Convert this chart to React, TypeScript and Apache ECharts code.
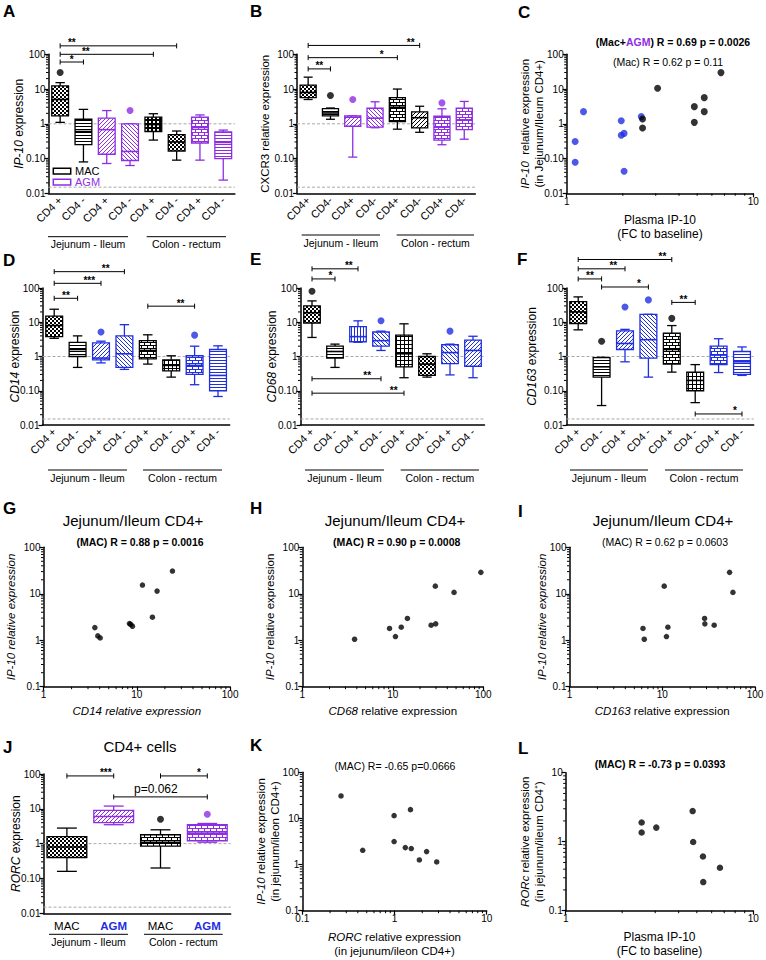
import React, { useEffect, useRef } from "react";
import * as echarts from "echarts";

const FONT = "'Liberation Sans', Arial, Helvetica, sans-serif";
const INK = "#000000";
const PURPLE = "#8e2de2";
const BLUE = "#1f2fe0";
const GREY = "#a9a9a9";

// ---------- categories / ticks ----------
const catsPM = ["CD4 +", "CD4 -", "CD4 +", "CD4 -", "CD4 +", "CD4 -", "CD4 +", "CD4 -"];
const catsB = ["CD4+", "CD4-", "CD4+", "CD4-", "CD4+", "CD4-", "CD4+", "CD4-"];
const catsJ = ["MAC", "AGM", "MAC", "AGM"];
const minorMultipliers = [2, 3, 4, 5, 6, 7, 8, 9];
const refLevels = [1, 0.015];

// ---------- box stats [min, q1, median, q3, max] ----------
const ip10Stats = [
  [1.1, 1.7, 5, 12.3, 15.3],
  [0.08, 0.25, 0.6, 1.35, 2.6],
  [0.072, 0.133, 0.68, 1.46, 2.4],
  [0.063, 0.088, 0.16, 1.0, 1.0],
  [0.34, 0.6, 0.95, 1.55, 1.95],
  [0.09, 0.165, 0.3, 0.49, 0.62],
  [0.09, 0.28, 0.78, 1.55, 1.8],
  [0.024, 0.1, 0.29, 0.58, 0.66],
];
const ip10Outliers = [[0, 30], [3, 2.4]];
const ip10Sig = [
  { a: 0, b: 1, y: 60, lx: 0.5, t: "*" },
  { a: 0, b: 4, y: 100, lx: 1.1, t: "**" },
  { a: 0, b: 5, y: 175, lx: 0.5, t: "**" },
];

const cxcr3Stats = [
  [5, 5.7, 8, 13, 22],
  [1.35, 1.7, 2.05, 2.75, 2.85],
  [0.11, 0.85, 1.55, 1.7, 1.7],
  [0.77, 0.8, 1.45, 2.8, 4.3],
  [0.7, 1.15, 3, 5.7, 10],
  [0.57, 0.76, 1.5, 2.2, 3.2],
  [0.25, 0.34, 0.8, 1.65, 2.7],
  [0.36, 0.68, 1.3, 2.8, 4.4],
];
const cxcr3Outliers = [[1, 6.5], [2, 5.0], [6, 4.0]];
const cxcr3Sig = [
  { a: 0, b: 1, y: 38, lx: 0.5, t: "**" },
  { a: 0, b: 4, y: 80, lx: 3.3, t: "*" },
  { a: 0, b: 5, y: 180, lx: 4.6, t: "**" },
];

const cd14Stats = [
  [3.4, 3.8, 8, 15, 24],
  [0.48, 1.0, 1.6, 2.6, 4.0],
  [0.65, 0.8, 0.9, 2.5, 2.8],
  [0.42, 0.48, 1.2, 4.0, 8.5],
  [0.6, 0.85, 1.5, 2.9, 4.3],
  [0.25, 0.38, 0.55, 0.8, 1.05],
  [0.15, 0.3, 0.55, 1.05, 2.0],
  [0.068, 0.1, 0.28, 1.6, 2.05],
];
const cd14Outliers = [[2, 5.2], [6, 4.2]];
const cd14Sig = [
  { a: 0, b: 1, y: 50, lx: 0.5, t: "**" },
  { a: 0, b: 2, y: 137, lx: 1.5, t: "***" },
  { a: 0, b: 3, y: 300, lx: 2.2, t: "**" },
  { a: 4, b: 6, y: 29.5, lx: 5.4, t: "**" },
];

const cd68Stats = [
  [3.6, 9.5, 19, 30, 42],
  [0.48, 0.9, 1.4, 2.0, 2.3],
  [2.6, 2.7, 3.8, 7.5, 11],
  [1.5, 2.0, 2.9, 5.2, 5.5],
  [0.24, 0.5, 1.2, 4.2, 9],
  [0.25, 0.28, 0.6, 1.0, 1.2],
  [0.29, 0.62, 1.3, 2.2, 2.3],
  [0.24, 0.52, 1.5, 3.0, 3.9],
];
const cd68Outliers = [[0, 80], [3, 11], [6, 5.5]];
const cd68Sig = [
  { a: 0, b: 1, y: 184, lx: 0.8, t: "*" },
  { a: 0, b: 2, y: 363, lx: 1.6, t: "**" },
  { a: 0, b: 3, y: 0.224, lx: 2.4, t: "**" },
  { a: 0, b: 4, y: 0.085, lx: 3.55, t: "**" },
];

const cd163Stats = [
  [6, 9.2, 20, 40, 55],
  [0.037, 0.25, 0.5, 0.93, 0.95],
  [0.7, 1.6, 2.4, 5.6, 6.2],
  [0.25, 0.9, 3.1, 17, 17],
  [0.35, 0.6, 1.6, 4.8, 8],
  [0.045, 0.1, 0.2, 0.35, 0.58],
  [0.34, 0.58, 1.1, 2.0, 3.3],
  [0.28, 0.3, 0.7, 1.4, 1.9],
];
const cd163Outliers = [[1, 2.8], [2, 28], [3, 45], [4, 13]];
const cd163Sig = [
  { a: 0, b: 1, y: 184, lx: 0.5, t: "**" },
  { a: 0, b: 2, y: 363, lx: 1.5, t: "**" },
  { a: 0, b: 4, y: 680, lx: 3.6, t: "**" },
  { a: 1, b: 3, y: 107, lx: 2.6, t: "*" },
  { a: 4, b: 5, y: 38, lx: 4.5, t: "**" },
  { a: 5, b: 7, y: 0.021, lx: 6.7, t: "*" },
];

const rorcStats = [
  [0.16, 0.4, 0.8, 1.6, 2.8],
  [3.5, 4.0, 6.0, 9.0, 12],
  [0.2, 0.85, 1.1, 1.8, 2.5],
  [1.1, 1.2, 2.0, 3.5, 3.8],
];
const rorcOutliers = [[2, 5.0], [3, 7.0]];
const rorcSig = [
  { a: 0, b: 1, y: 88, lx: 0.83, t: "***" },
  { a: 2, b: 3, y: 88, lx: 2.82, t: "*" },
  { a: 1, b: 3, y: 22, lx: 1.9, t: "p=0.062" },
];

// ---------- scatter data [x, y] ----------
const cMac = [[2.55, 1.38], [2.55, 0.76], [3.07, 10.5], [4.83, 3.12], [4.83, 1.1], [5.46, 5.66], [5.46, 2.24], [6.71, 29.7]];
const cAgm = [[1.11, 0.31], [1.11, 0.078], [1.23, 2.24], [1.96, 1.23], [1.96, 0.47], [2.03, 0.53], [2.03, 0.043], [2.51, 1.61]];
const gPts = [[3.55, 1.87], [3.82, 1.24], [4.05, 1.12], [8.34, 2.29], [8.6, 2.2], [8.98, 2.0], [11.5, 15.4], [14.7, 3.13], [16.5, 11.4], [24.1, 30.8]];
const hPts = [[3.78, 1.05], [9.2, 1.79], [10.7, 1.2], [12.4, 1.91], [14.5, 2.94], [26.5, 2.11], [29.8, 2.25], [29.5, 14.6], [47.5, 10.7], [94, 28.9]];
const iPts = [[6.2, 1.79], [6.4, 1.05], [10.5, 14.6], [11.1, 1.2], [11.5, 1.91], [28.6, 2.94], [28.8, 2.25], [36.3, 2.11], [53.2, 28.9], [57.8, 10.7]];
const kPts = [[0.263, 30.7], [0.452, 2.04], [0.99, 11.5], [0.99, 3.15], [1.49, 15.5], [1.31, 2.33], [1.52, 2.22], [1.86, 1.26], [2.23, 1.91], [2.87, 1.14]];
const lPts = [[2.54, 1.9], [2.54, 1.36], [3.04, 1.6], [4.75, 2.78], [4.78, 0.99], [5.39, 0.61], [6.64, 0.42], [5.41, 0.26]];

// ---------- styles (pattern, color) ----------
const K = INK, P = PURPLE, B = BLUE;
const styleA = [["checker", K], ["hlines", K], ["diag", P], ["diagb", P], ["dots", K], ["checker", K], ["brick", P], ["hlines", P]];
const styleB = [["checker", K], ["hlines", K], ["diag", P], ["diagb", P], ["brick", K], ["diag", K], ["brick", P], ["brick", P]];
const styleD = [["checker", K], ["hlines", K], ["diag", B], ["diagb", B], ["brick", K], ["grid", K], ["brick", B], ["hlines", B]];
const styleE = [["checker", K], ["hlines", K], ["vlines", B], ["diagb", B], ["grid", K], ["checker", K], ["diagb", B], ["diag", B]];
const styleF = [["checker", K], ["hlines", K], ["diag", B], ["diagb", B], ["brick", K], ["grid", K], ["brick", B], ["hlines", B]];
const styleJ = [["checker", K], ["diag", P], ["brick", K], ["brick", P]];

function makePattern(kind: string, color: string) {
  const c = document.createElement("canvas");
  let w = 4, h = 4;
  if (kind === "hlines" || kind === "vlines") { w = 3; h = 3; }
  if (kind === "brick") { w = 6; h = 6; }
  c.width = w; c.height = h;
  const g = c.getContext("2d")!;
  g.fillStyle = "#ffffff"; g.fillRect(0, 0, w, h);
  g.fillStyle = color;
  switch (kind) {
    case "checker": g.fillRect(0, 0, 2, 2); g.fillRect(2, 2, 2, 2); break;
    case "dots": g.fillRect(0, 0, 4, 4); g.fillStyle = "#ffffff"; g.fillRect(1, 1, 2, 2); break;
    case "hlines": g.fillRect(0, 0, w, 1); break;
    case "vlines": g.fillRect(0, 0, 1, h); break;
    case "grid": g.fillRect(0, 0, w, 1); g.fillRect(0, 0, 1, h); break;
    case "brick": g.fillRect(0, 0, 6, 1); g.fillRect(0, 1, 1, 2); g.fillRect(0, 3, 6, 1); g.fillRect(3, 4, 1, 2); break;
    case "diag": for (let i = 0; i < w; i++) g.fillRect(i, h - 1 - i, 1, 1); break;
    case "diagb": for (let i = 0; i < w; i++) g.fillRect(i, i, 1, 1); break;
  }
  return { image: c.toDataURL(), repeat: "repeat", imageWidth: w, imageHeight: h };
}

function decadeLabel(v: number, short: boolean) {
  const e = Math.round(Math.log10(v));
  const m: any = { "-2": "0.01", "-1": short ? "0.1" : "0.10", "0": "1", "1": "10", "2": "100" };
  return m[String(e)] ?? "";
}

function minorValues(e0: number, e1: number) {
  const out: number[] = [];
  for (let e = e0; e < e1; e++) for (const m of minorMultipliers) out.push(m * Math.pow(10, e));
  return out;
}

const nameStyle = (size: number) => ({
  fontSize: size, fontFamily: FONT, color: INK, lineHeight: size + 2,
  rich: { i: { fontStyle: "italic", fontSize: size, fontFamily: FONT, color: INK } },
});

function buildOption() {
  const grids: any[] = [], xAxes: any[] = [], yAxes: any[] = [], series: any[] = [], graphic: any[] = [];

  const logAxis = (dim: "x" | "y", gi: number, min: number, max: number, short: boolean, name: string, gap: number, size: number) => ({
    type: "log", logBase: 10, gridIndex: gi, min, max,
    axisLine: { show: true, lineStyle: { color: INK, width: 1.5 } },
    axisTick: { show: true, length: 4, lineStyle: { color: INK, width: 1.2 } },
    axisLabel: { fontSize: 10, color: INK, fontFamily: FONT, margin: 3, formatter: (v: number) => decadeLabel(v, short) },
    splitLine: { show: false }, minorTick: { show: false }, minorSplitLine: { show: false },
    name, nameLocation: "middle", nameGap: gap, nameRotate: dim === "y" ? 90 : 0,
    nameMoveOverlap: false, nameTextStyle: nameStyle(size),
  });

  const minorSeries = (gi: number, dim: "x" | "y", vals: number[], other: number) => ({
    type: "custom", xAxisIndex: gi, yAxisIndex: gi, silent: true, z: 3,
    data: vals.map((v) => (dim === "y" ? [other, v] : [v, other])),
    renderItem: (params: any, api: any) => {
      const cs = params.coordSys;
      const p = api.coord([api.value(0), api.value(1)]);
      if (dim === "y") return { type: "line", shape: { x1: cs.x - 2.5, y1: p[1], x2: cs.x, y2: p[1] }, style: { stroke: INK, lineWidth: 1 } };
      const yb = cs.y + cs.height;
      return { type: "line", shape: { x1: p[0], y1: yb, x2: p[0], y2: yb + 2.5 }, style: { stroke: INK, lineWidth: 1 } };
    },
  });

  const patternCache: any = {};
  const pat = (k: string, c: string) => (patternCache[k + c] ||= makePattern(k, c));

  const addBoxPanel = (p: any) => {
    const gi = grids.length;
    grids.push({ left: p.left, top: p.top, width: p.width, height: p.height, containLabel: false, outerBoundsMode: "none" });
    xAxes.push({
      type: "category", gridIndex: gi, data: p.cats, boundaryGap: true,
      axisLine: { lineStyle: { color: INK, width: 1.5 } },
      axisTick: { alignWithLabel: true, length: 4, lineStyle: { color: INK, width: 1.2 } },
      axisLabel: {
        interval: 0, rotate: p.rotate, fontSize: p.catFont, color: INK, fontFamily: FONT, margin: p.catMargin,
        formatter: (v: string) => (p.agmBlue && v === "AGM" ? "{a|AGM}" : v),
        rich: { a: { color: BLUE, fontWeight: "bold", fontSize: p.catFont, fontFamily: FONT } },
      },
      splitLine: { show: false },
    });
    yAxes.push(logAxis("y", gi, 0.01, 100, false, p.yName, p.yNameGap, p.yNameSize));
    // reference dashed lines
    series.push({
      type: "custom", xAxisIndex: gi, yAxisIndex: gi, silent: true, z: 1,
      data: refLevels.map((v) => [0, v]),
      renderItem: (params: any, api: any) => {
        const cs = params.coordSys;
        const y = api.coord([0, api.value(1)])[1];
        return { type: "line", shape: { x1: cs.x, y1: y, x2: cs.x + cs.width, y2: y }, style: { stroke: GREY, lineWidth: 1, lineDash: [3, 2] } };
      },
    });
    series.push(minorSeries(gi, "y", minorValues(-2, 2), 0));
    // boxes
    series.push({
      type: "custom", xAxisIndex: gi, yAxisIndex: gi, z: 2,
      data: p.stats.map((s: number[], i: number) => [i, ...s]),
      encode: { x: 0, y: [1, 2, 3, 4, 5] },
      renderItem: (params: any, api: any) => {
        const i = api.value(0);
        const [kind, color] = p.styles[params.dataIndex];
        const band = api.size([1, 1])[0];
        const pm = api.coord([i, api.value(1)]);
        const cx = pm[0];
        const yMin = pm[1];
        const yQ1 = api.coord([i, api.value(2)])[1];
        const yMed = api.coord([i, api.value(3)])[1];
        const yQ3 = api.coord([i, api.value(4)])[1];
        const yMax = api.coord([i, api.value(5)])[1];
        const bw = band * p.boxFrac, cw = bw * p.capFrac;
        const ls = { stroke: color, lineWidth: 1.3 };
        return {
          type: "group",
          children: [
            { type: "line", shape: { x1: cx, y1: yMax, x2: cx, y2: yQ3 }, style: ls },
            { type: "line", shape: { x1: cx, y1: yQ1, x2: cx, y2: yMin }, style: ls },
            { type: "line", shape: { x1: cx - cw / 2, y1: yMax, x2: cx + cw / 2, y2: yMax }, style: ls },
            { type: "line", shape: { x1: cx - cw / 2, y1: yMin, x2: cx + cw / 2, y2: yMin }, style: ls },
            { type: "rect", shape: { x: cx - bw / 2, y: yQ3, width: bw, height: yQ1 - yQ3 }, style: { fill: pat(kind, color), stroke: color, lineWidth: 1.3 } },
            { type: "line", shape: { x1: cx - bw / 2, y1: yMed, x2: cx + bw / 2, y2: yMed }, style: { stroke: color, lineWidth: 1.6 } },
          ],
        };
      },
    });
    // outliers
    series.push({
      type: "scatter", xAxisIndex: gi, yAxisIndex: gi, symbol: "circle", symbolSize: 7, z: 4, silent: true,
      data: p.outliers.map((o: number[]) => ({ value: o, itemStyle: { color: p.styles[o[0]][1] } })),
    });
    // significance brackets
    series.push({
      type: "custom", xAxisIndex: gi, yAxisIndex: gi, z: 5, silent: true,
      data: p.sig.map((s: any) => [s.a, s.b, s.y, s.lx]),
      renderItem: (params: any, api: any) => {
        const s = p.sig[params.dataIndex];
        const band = api.size([1, 1])[0];
        const pa = api.coord([s.a, s.y]);
        const pb = api.coord([s.b, s.y]);
        const lxp = pa[0] + (s.lx - s.a) * band;
        const isP = s.t.startsWith("p");
        const st = { stroke: INK, lineWidth: 1 };
        return {
          type: "group",
          children: [
            { type: "line", shape: { x1: pa[0], y1: pa[1], x2: pb[0], y2: pb[1] }, style: st },
            { type: "line", shape: { x1: pa[0], y1: pa[1] - 2.5, x2: pa[0], y2: pa[1] + 2.5 }, style: st },
            { type: "line", shape: { x1: pb[0], y1: pb[1] - 2.5, x2: pb[0], y2: pb[1] + 2.5 }, style: st },
            {
              type: "text", x: lxp, y: pa[1] - (isP ? 1 : 0),
              style: {
                text: s.t, fill: INK, fontFamily: FONT, fontSize: isP ? 12 : 10, fontWeight: isP ? "normal" : "bold",
                lineHeight: isP ? 13 : 6,
                align: "center", verticalAlign: "bottom", textAlign: "center", textVerticalAlign: "bottom",
              },
            },
          ],
        };
      },
    });
  };

  const addScatterPanel = (p: any) => {
    const gi = grids.length;
    grids.push({ left: p.left, top: p.top, width: p.width, height: p.height, containLabel: false, outerBoundsMode: "none" });
    xAxes.push(logAxis("x", gi, p.xMin, p.xMax, true, p.xName, p.xNameGap, p.xNameSize));
    yAxes.push(logAxis("y", gi, p.yMin, p.yMax, p.yShort, p.yName, p.yNameGap, p.yNameSize));
    const ex0 = Math.round(Math.log10(p.xMin)), ex1 = Math.round(Math.log10(p.xMax));
    const ey0 = Math.round(Math.log10(p.yMin)), ey1 = Math.round(Math.log10(p.yMax));
    series.push(minorSeries(gi, "x", minorValues(ex0, ex1), p.yMin));
    series.push(minorSeries(gi, "y", minorValues(ey0, ey1), p.xMin));
    for (const s of p.sets) {
      series.push({
        type: "scatter", xAxisIndex: gi, yAxisIndex: gi, symbol: "circle", symbolSize: s.size, silent: true, z: 4,
        itemStyle: { color: s.color }, data: s.data,
      });
    }
  };

  // ----- Box panels -----
  addBoxPanel({ cats: catsPM, stats: ip10Stats, outliers: ip10Outliers, sig: ip10Sig, styles: styleA,
    left: 48.5, top: 54.3, width: 186.4, height: 139, rotate: 45, catFont: 11, catMargin: 5,
    yName: "{i|IP-10} expression", yNameGap: 23, yNameSize: 12, boxFrac: 0.72, capFrac: 0.56 });
  addBoxPanel({ cats: catsB, stats: cxcr3Stats, outliers: cxcr3Outliers, sig: cxcr3Sig, styles: styleB,
    left: 297, top: 54.3, width: 178.4, height: 139, rotate: 45, catFont: 11, catMargin: 5,
    yName: "CXCR3 relative expression", yNameGap: 25, yNameSize: 11.5, boxFrac: 0.72, capFrac: 0.56 });
  addBoxPanel({ cats: catsPM, stats: cd14Stats, outliers: cd14Outliers, sig: cd14Sig, styles: styleD,
    left: 42.5, top: 288, width: 187.2, height: 137, rotate: 45, catFont: 11, catMargin: 5,
    yName: "{i|CD14} expression", yNameGap: 21, yNameSize: 12, boxFrac: 0.72, capFrac: 0.56 });
  addBoxPanel({ cats: catsPM, stats: cd68Stats, outliers: cd68Outliers, sig: cd68Sig, styles: styleE,
    left: 300.5, top: 288, width: 184, height: 137, rotate: 45, catFont: 11, catMargin: 5,
    yName: "{i|CD68} expression", yNameGap: 22, yNameSize: 12, boxFrac: 0.72, capFrac: 0.56 });
  addBoxPanel({ cats: catsPM, stats: cd163Stats, outliers: cd163Outliers, sig: cd163Sig, styles: styleF,
    left: 566.5, top: 288, width: 187.2, height: 137, rotate: 45, catFont: 11, catMargin: 5,
    yName: "{i|CD163} expression", yNameGap: 28, yNameSize: 12, boxFrac: 0.72, capFrac: 0.56 });
  addBoxPanel({ cats: catsJ, stats: rorcStats, outliers: rorcOutliers, sig: rorcSig, styles: styleJ,
    left: 43.5, top: 774, width: 187.2, height: 139.3, rotate: 0, catFont: 11.5, catMargin: 7, agmBlue: true,
    yName: "{i|RORC} expression", yNameGap: 21, yNameSize: 12, boxFrac: 0.85, capFrac: 0.5 });

  // ----- Scatter panels -----
  addScatterPanel({ left: 566.7, top: 54.3, width: 186.6, height: 139, xMin: 1, xMax: 10, yMin: 0.01, yMax: 100, yShort: false,
    xName: "Plasma IP-10\n(FC to baseline)", xNameGap: 20, xNameSize: 12,
    yName: "{i|IP-10}  relative expression\n(in Jejunum/Ileum CD4+)", yNameGap: 21, yNameSize: 11.5,
    sets: [{ data: cAgm, color: BLUE, size: 7 }, { data: cMac, color: INK, size: 7 }] });
  addScatterPanel({ left: 43.5, top: 547.3, width: 186.6, height: 139.4, xMin: 1, xMax: 100, yMin: 0.1, yMax: 100, yShort: true,
    xName: "{i|CD14 relative expression}", xNameGap: 18, xNameSize: 11.5,
    yName: "{i|IP-10 relative expression}", yNameGap: 26, yNameSize: 11.5,
    sets: [{ data: gPts, color: INK, size: 5.5 }] });
  addScatterPanel({ left: 302.3, top: 547.3, width: 181, height: 139.4, xMin: 1, xMax: 100, yMin: 0.1, yMax: 100, yShort: true,
    xName: "{i|CD68} relative expression", xNameGap: 18, xNameSize: 11.5,
    yName: "{i|IP-10} relative expression", yNameGap: 26, yNameSize: 11.5,
    sets: [{ data: hPts, color: INK, size: 5.5 }] });
  addScatterPanel({ left: 569.5, top: 547.3, width: 185.5, height: 139.4, xMin: 1, xMax: 100, yMin: 0.1, yMax: 100, yShort: true,
    xName: "{i|CD163} relative expression", xNameGap: 18, xNameSize: 11.5,
    yName: "{i|IP-10 relative expression}", yNameGap: 21, yNameSize: 11.5,
    sets: [{ data: iPts, color: INK, size: 5.5 }] });
  addScatterPanel({ left: 302.3, top: 772.3, width: 184.4, height: 138.4, xMin: 0.1, xMax: 10, yMin: 0.1, yMax: 100, yShort: true,
    xName: "{i|RORC} relative expression\n(in jejunum/ileon CD4+)", xNameGap: 20, xNameSize: 11.5,
    yName: "{i|IP-10} relative expression\n(in jejunum/ileon CD4+)", yNameGap: 21, yNameSize: 11.5,
    sets: [{ data: kPts, color: INK, size: 5.5 }] });
  addScatterPanel({ left: 565.7, top: 772.7, width: 187.6, height: 138, xMin: 1, xMax: 10, yMin: 0.1, yMax: 10, yShort: true,
    xName: "Plasma IP-10\n(FC to baseline)", xNameGap: 19, xNameSize: 12,
    yName: "{i|RORc} relative expression\n(in jejunum/ileum CD4\u207A)", yNameGap: 20, yNameSize: 11.5,
    sets: [{ data: lPts, color: INK, size: 6.5 }] });

  // ----- graphic texts -----
  const txt = (text: string, x: number, y: number, size: number, opts: any = {}) => ({
    type: "text", x, y, silent: true,
    style: {
      text, fill: opts.fill || INK, fontFamily: FONT, fontSize: size, fontWeight: opts.weight || "normal",
      fontStyle: opts.italic ? "italic" : "normal",
      align: opts.align || "center", verticalAlign: opts.va || "middle",
      textAlign: opts.align || "center", textVerticalAlign: opts.va || "middle",
      rich: opts.rich,
    },
  });
  const letters: [string, number, number][] = [
    ["A", 3, 3], ["B", 250, 3], ["C", 518, 4], ["D", 3, 252], ["E", 250, 251], ["F", 517, 251],
    ["G", 3, 500], ["H", 250, 500], ["I", 518, 503], ["J", 3, 739], ["K", 250, 737], ["L", 518, 740],
  ];
  for (const [t, x, y] of letters) graphic.push(txt(t, x, y, 17, { weight: "bold", align: "left", va: "top" }));

  const groups: [number, number, number][][] = [
    [[48, 128, 236.7], [146.7, 226, 236.7]],
    [[301.7, 380, 235], [396.7, 474, 235]],
    [[48, 127, 470], [143, 222, 470]],
    [[305, 384, 470], [400.7, 479, 470]],
    [[570, 648, 470], [665, 743, 470]],
    [[49, 128, 934.3], [144, 222.7, 934.3]],
  ];
  const groupNames = ["Jejunum - Ileum", "Colon - rectum"];
  for (const row of groups) {
    row.forEach(([x1, x2, y], k) => {
      graphic.push({ type: "line", silent: true, shape: { x1, y1: y, x2, y2: y }, style: { stroke: INK, lineWidth: 1 } });
      graphic.push(txt(groupNames[k], (x1 + x2) / 2, y + 7.5, 10.5));
    });
  }

  // legend in A
  graphic.push({ type: "rect", silent: true, shape: { x: 53.3, y: 168.3, width: 17.4, height: 5.7 }, style: { fill: "#fff", stroke: INK, lineWidth: 1.5 } });
  graphic.push(txt("MAC", 75, 171.3, 11, { align: "left" }));
  graphic.push({ type: "rect", silent: true, shape: { x: 53.3, y: 179.3, width: 17.4, height: 5.7 }, style: { fill: "#fff", stroke: PURPLE, lineWidth: 1.5 } });
  graphic.push(txt("AGM", 75, 182.3, 11, { align: "left", fill: PURPLE }));

  // titles / stats
  const richBold = {
    b: { fontWeight: "bold", fill: INK, color: INK, fontSize: 10.5, fontFamily: FONT },
    p: { fontWeight: "bold", fill: PURPLE, color: PURPLE, fontSize: 10.5, fontFamily: FONT },
  };
  graphic.push(txt("{b|(Mac+}{p|AGM}{b|) R = 0.69 p = 0.0026}", 673, 41.7, 10.5, { rich: richBold }));
  graphic.push(txt("(Mac) R = 0.62 p = 0.11", 668, 61.7, 10.5));
  graphic.push(txt("Jejunum/Ileum CD4+", 133, 520, 15));
  graphic.push(txt("Jejunum/Ileum CD4+", 395, 520, 15));
  graphic.push(txt("Jejunum/Ileum CD4+", 663, 520, 15));
  graphic.push(txt("(MAC) R = 0.88 p = 0.0016", 140, 541.7, 10.5, { weight: "bold" }));
  graphic.push(txt("(MAC) R = 0.90 p = 0.0008", 396.7, 541.7, 10.5, { weight: "bold" }));
  graphic.push(txt("(MAC) R = 0.62 p = 0.0603", 665, 541.7, 10.5));
  graphic.push(txt("CD4+ cells", 140, 746, 15));
  graphic.push(txt("(MAC) R= -0.65 p=0.0666", 395, 766, 10.5));
  graphic.push(txt("(MAC) R = -0.73 p = 0.0393", 660, 764, 10.5, { weight: "bold" }));

  return {
    animation: false,
    backgroundColor: "#ffffff",
    textStyle: { fontFamily: FONT },
    grid: grids, xAxis: xAxes, yAxis: yAxes, series, graphic,
  };
}

export default function App() {
  const ref = useRef<HTMLDivElement>(null);
  useEffect(() => {
    document.body.style.margin = "0";
    const chart = echarts.init(ref.current!, null, { renderer: "svg" });
    chart.setOption(buildOption());
    return () => chart.dispose();
  }, []);
  return <div ref={ref} style={{ width: 766, height: 960, background: "#ffffff" }} />;
}
